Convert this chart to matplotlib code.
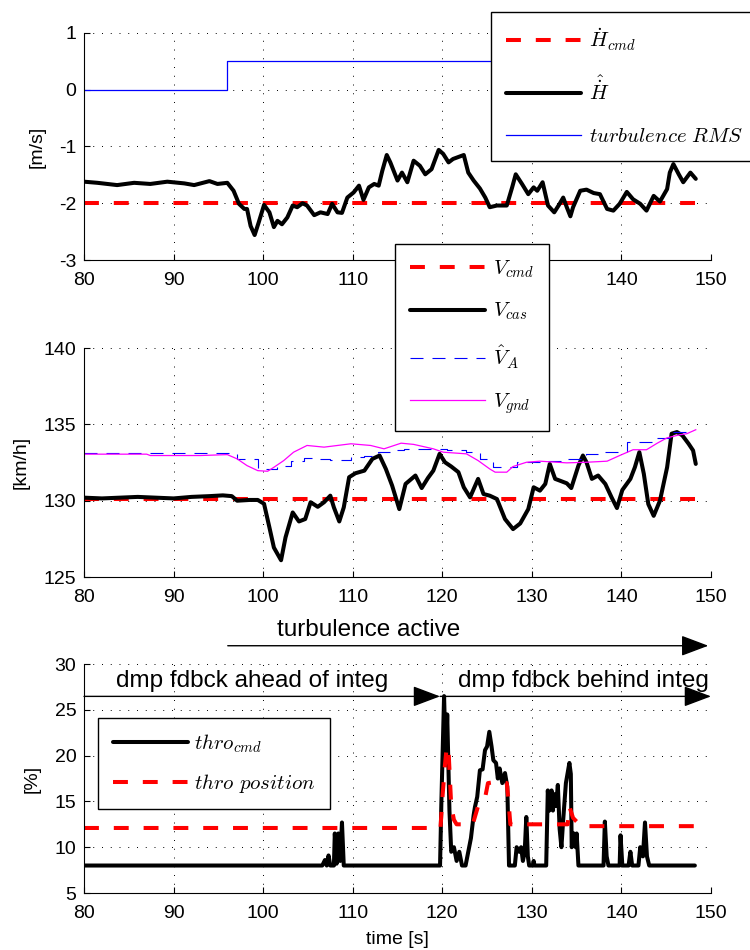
import matplotlib
matplotlib.use('Agg')
import matplotlib.pyplot as plt
import numpy as np

plt.rcParams['font.family'] = ['Liberation Sans', 'DejaVu Sans']
plt.rcParams['mathtext.fontset'] = 'cm'
plt.rcParams['axes.unicode_minus'] = False

# ---------------- data ----------------
x_ticks = [80, 90, 100, 110, 120, 130, 140, 150]

# top panel: vertical speed
t_hdot = [80, 81.5, 83.7, 85.6, 87.4, 89.3, 91.2, 92.3, 94.0, 94.9, 96.0, 96.7, 97.3, 97.9, 98.2,
          98.6, 99.05, 99.5, 100.1, 100.7, 101.2, 101.6, 102.1, 102.7, 103.3, 103.8, 104.4, 104.9,
          105.7, 106.4, 107.2, 107.7, 108.3, 108.8, 109.4, 110.1, 110.7, 111.2, 111.8, 112.4, 112.9,
          113.3, 113.8, 114.2, 115.0, 115.5, 116.1, 116.8, 117.5, 118.1, 118.8, 119.6, 120.1, 120.7,
          121.2, 122.4, 122.9, 123.5, 124.2, 124.8, 125.3, 126.1, 127.2, 127.8, 128.2, 128.9, 129.6,
          130.2, 130.6, 131.2, 131.8, 132.5, 133.1, 133.5, 133.9, 134.3, 134.6, 135.4, 136.1, 136.9,
          137.6, 138.4, 139.1, 139.8, 140.6, 141.3, 142.1, 142.8, 143.6, 144.3, 145.1, 145.4, 145.8,
          146.4, 146.9, 147.7, 148.3]
hdot_est = [-1.62, -1.64, -1.68, -1.64, -1.66, -1.62, -1.65, -1.68, -1.61, -1.66, -1.64, -1.78, -2.01,
            -2.10, -2.10, -2.40, -2.56, -2.34, -2.03, -2.16, -2.42, -2.31, -2.37, -2.25, -2.04, -2.07,
            -2.00, -2.04, -2.21, -2.16, -2.19, -2.01, -2.16, -2.17, -1.90, -1.81, -1.69, -1.94, -1.72,
            -1.66, -1.69, -1.43, -1.15, -1.28, -1.60, -1.46, -1.63, -1.25, -1.34, -1.49, -1.40, -1.06,
            -1.13, -1.28, -1.22, -1.15, -1.46, -1.60, -1.74, -1.90, -2.07, -2.04, -2.04, -1.72, -1.49,
            -1.66, -1.84, -1.72, -1.78, -1.63, -2.04, -2.16, -2.01, -1.90, -2.07, -2.23, -2.07, -1.78,
            -1.76, -1.82, -1.84, -2.10, -2.13, -2.01, -1.80, -1.93, -2.01, -2.13, -1.87, -1.97, -1.75,
            -1.46, -1.31, -1.49, -1.63, -1.46, -1.57]
t_hcmd = [80, 148.3]
hdot_cmd = [-2.0, -2.0]
t_turb = [80, 96, 148.3]
turb_rms = [0.0, 0.5, 0.5]

# middle panel: speeds
t_vcas = [80, 82, 84, 86, 88, 90, 92, 94, 95.5, 96.5, 97.1, 98.5, 99.4, 100.1, 100.7, 101.2, 102.0,
          102.5, 103.3, 104.0, 104.7, 105.3, 106.1, 106.8, 107.5, 107.9, 108.5, 109.0, 109.6, 110.3,
          111.3, 112.2, 113.0, 113.7, 114.4, 115.2, 115.9, 117.0, 117.7, 118.4, 119.0, 119.7, 120.3,
          121.0, 121.8, 122.4, 123.1, 124.0, 124.6, 125.3, 126.1, 127.0, 127.9, 128.7, 129.6, 130.2,
          130.9, 131.5, 132.0, 132.6, 133.1, 133.9, 134.4, 135.2, 135.7, 136.1, 136.7, 137.4, 138.2,
          138.9, 139.5, 140.1, 141.0, 141.5, 142.0, 142.5, 143.0, 143.6, 144.3, 145.1, 145.6, 146.2,
          146.8, 147.5, 148.0, 148.3]
v_cas = [130.2, 130.15, 130.2, 130.25, 130.2, 130.15, 130.25, 130.3, 130.35, 130.3, 130.0, 130.05,
         130.05, 129.8, 128.25, 126.93, 126.1, 127.6, 129.23, 128.64, 128.8, 129.9, 129.6, 129.9,
         130.33, 129.56, 128.64, 129.56, 131.54, 131.8, 131.97, 132.74, 132.96, 132.08, 130.99, 129.45,
         131.1, 131.65, 130.83, 131.49, 131.97, 133.07, 132.52, 132.24, 131.87, 130.88, 130.22, 131.43,
         130.44, 130.33, 130.11, 128.8, 128.14, 128.51, 129.45, 130.88, 130.66, 131.1, 132.41, 131.43,
         131.32, 131.14, 130.83, 132.3, 132.96, 132.52, 131.43, 131.65, 131.1, 130.22, 129.52, 130.7,
         131.43, 132.19, 133.18, 131.76, 129.78, 129.01, 130.0, 132.19, 134.39, 134.5, 134.28, 133.73,
         133.29, 132.41]
t_vcmd = [80, 148.3]
v_cmd = [130.1, 130.1]
t_vgnd = [80, 87.0, 87.4, 93.0, 96.0, 97.1, 98.2, 99.4, 100.5, 101.2, 102.3, 103.4, 104.9, 106.8,
          108.3, 109.8, 112.0, 113.5, 115.4, 116.8, 119.0, 120.1, 122.7, 124.0, 125.3, 125.9, 127.2,
          127.9, 129.4, 130.9, 133.9, 136.1, 138.4, 139.8, 141.3, 142.8, 144.0, 145.1, 146.5, 147.3,
          148.3]
v_gnd = [133.05, 133.05, 132.96, 132.96, 133.02, 132.74, 132.3, 131.97, 131.93, 132.19, 132.63,
         133.18, 133.62, 133.51, 133.62, 133.73, 133.62, 133.4, 133.77, 133.69, 133.4, 133.18, 133.07,
         132.63, 132.08, 131.87, 131.87, 132.24, 132.52, 132.59, 132.48, 132.52, 132.59, 132.96,
         133.34, 133.34, 133.77, 134.12, 134.32, 134.39, 134.65]
t_va = [80, 96.0, 97.1, 99.4, 100.5, 101.6, 103.1, 104.6, 106.1, 107.5, 109.8, 111.3, 112.8, 114.2,
        115.7, 117.1, 120.5, 122.7, 124.2, 125.7, 127.2, 128.3, 130.9, 133.9, 136.1, 137.6, 140.6,
        143.6, 145.8, 147.3]
v_a_est = [133.15, 133.1, 132.74, 132.08, 132.08, 132.3, 132.63, 132.81, 132.74, 132.68, 132.85,
           132.96, 133.18, 133.34, 133.4, 133.4, 133.34, 133.18, 132.74, 132.19, 132.19, 132.52,
           132.63, 132.74, 133.03, 133.18, 133.84, 134.12, 134.5, 134.87]

# bottom panel: throttle
t_thr = [80, 106.6, 106.9, 107.1, 107.3, 107.5, 107.9, 108.0, 108.2, 108.4, 108.6, 108.8, 109.0,
         119.75, 119.9, 120.2, 120.4, 120.55, 120.8, 121.0, 121.3, 121.6, 121.9, 122.2, 122.6, 122.9,
         123.2, 123.5, 123.65, 123.9, 124.2, 124.5, 124.77, 125.0, 125.25, 125.5, 125.7, 126.0, 126.2,
         126.4, 126.7, 127.0, 127.26, 127.45, 128.1, 128.3, 128.6, 128.8, 129.0, 129.2, 129.38,
         129.55, 129.7, 130.1, 130.2, 130.3, 131.6, 131.78, 131.95, 132.2, 132.35, 132.48, 132.7,
         132.9, 133.1, 133.3, 133.5, 133.8, 134.19, 134.35, 134.45, 134.7, 134.9, 135.0, 135.2,
         138.0, 138.15, 138.35, 138.55, 139.8, 139.9, 140.1, 140.8, 141.0, 141.2, 141.9, 142.1,
         142.4, 142.63, 142.85, 143.1, 148.2]
thro_cmd = [8, 8, 8.6, 8, 9.1, 8, 8, 11.5, 8.2, 11.5, 8.5, 12.7, 8,
            8, 15, 26.5, 19, 24.5, 14, 9.5, 10, 8.5, 9.5, 8, 8, 9.5,
            11, 13.5, 14.4, 15.5, 18.4, 18.5, 20.6, 21, 22.6, 21, 19.5, 19.2, 17.5,
            18.6, 17, 18.1, 16.6, 8, 8, 10, 9.5, 10, 8.5, 9.5, 13.3,
            9, 8, 8, 8.5, 8, 8, 16.2, 14, 16.2, 14, 15.8, 14.5,
            16.8, 12, 10, 13, 17, 19.2, 18, 10, 11.5, 10, 11.5, 8,
            8, 12.8, 9, 8, 8, 11.3, 8, 8, 9.5, 8, 8, 10,
            9, 12.7, 9, 8, 8]
t_pos = [80, 119.8, 120.0, 120.3, 120.5, 120.7, 120.85, 121.0, 121.3, 121.6, 123.4, 123.7, 124.0,
         124.4, 124.8, 125.1, 126.5, 127.2, 127.35, 127.6, 134.0, 134.2, 134.6, 135.0, 135.5, 148.2]
thro_pos = [12.1, 12.1, 15.2, 19, 21, 20.5, 17.5, 14.5, 13, 12.5, 12.5, 13.5, 14.5,
            15, 15.5, 17, 17.2, 17, 15.5, 12.5, 12.5, 14.4, 13.2, 12.8, 12.3, 12.3]

# ---------------- figure ----------------
fig = plt.figure(figsize=(7.5, 9.5), dpi=100)
ax1 = fig.add_axes([0.112, 0.7263, 0.836, 0.239])
ax2 = fig.add_axes([0.112, 0.3926, 0.836, 0.241])
ax3 = fig.add_axes([0.112, 0.060, 0.836, 0.241])

RED_DASH = dict(color='#ff0000', lw=2.9, linestyle=(0, (3.7, 3.7)), dash_capstyle='butt')
BLACK = dict(color='k', lw=2.9, solid_joinstyle='round', solid_capstyle='round')


def style(ax, ylim, yticks, ylabel, ylab_x):
    ax.set_xlim(80, 150)
    ax.set_ylim(*ylim)
    ax.set_xticks(x_ticks)
    ax.set_yticks(yticks)
    for s in ('top', 'right'):
        ax.spines[s].set_visible(False)
    for s in ('left', 'bottom'):
        ax.spines[s].set_linewidth(0.8)
    ax.tick_params(direction='in', length=4.5, width=0.8, labelsize=14)
    ax.tick_params(axis='x', pad=8.5)
    ax.tick_params(axis='y', pad=5.5)
    ax.grid(True, color='k', linestyle=(0, (1, 8)), linewidth=0.7)
    ax.set_ylabel(ylabel, fontsize=14)
    ax.yaxis.set_label_coords(ylab_x, 0.5)


def legend(ax, anchor, spacing, pad=0.7, tpad=0.4, hl=3.6):
    lg = ax.legend(loc='upper left', bbox_to_anchor=anchor, bbox_transform=fig.transFigure,
                   fontsize=15, handlelength=hl, handletextpad=tpad, labelspacing=spacing,
                   borderpad=pad, borderaxespad=0, fancybox=False, framealpha=1,
                   edgecolor='k')
    lg.get_frame().set_linewidth(1.0)
    return lg


# top
ax1.plot(t_hcmd, hdot_cmd, label=r'$\dot{H}_{cmd}$', **RED_DASH)
ax1.plot(t_hdot, hdot_est, label=r'$\hat{\dot{H}}$', **BLACK)
ax1.plot(t_turb, turb_rms, drawstyle='steps-post', color='#0000ff', lw=0.9,
         label=r'$turbulence\ RMS$')
style(ax1, (-3, 1), [-3, -2, -1, 0, 1], '[m/s]', -0.061)
legend(ax1, (0.6547, 0.9874), 1.1)

# middle
ax2.plot(t_vcmd, v_cmd, label=r'$V_{cmd}$', **RED_DASH)
ax2.plot(t_vcas, v_cas, label=r'$V_{cas}$', **BLACK)
ax2.plot(t_va, v_a_est, drawstyle='steps-post', color='#0000ff', lw=0.8,
         linestyle=(0, (11.7, 8.1)), label=r'$\hat{V}_A$')
ax2.plot(t_vgnd, v_gnd, color='#ff00ff', lw=0.9, label=r'$V_{gnd}$')
style(ax2, (125, 140), [125, 130, 135, 140], '[km/h]', -0.087)
legend(ax2, (0.5267, 0.7432), 1.0, tpad=0.42)

# bottom
ax3.plot(t_thr, thro_cmd, label=r'$thro_{cmd}$', **BLACK)
ax3.plot(t_pos, thro_pos, label=r'$thro\ position$', **RED_DASH)
style(ax3, (5, 30), [5, 10, 15, 20, 25, 30], '[%]', -0.069)
ax3.set_xlabel('time [s]', fontsize=14)
ax3.xaxis.set_label_coords(0.5, -0.166)
legend(ax3, (0.1307, 0.2442), 0.8, tpad=0.33)

arrow = dict(arrowstyle='-|>,head_length=0.85,head_width=0.32', color='k', lw=1.0,
             shrinkA=0, shrinkB=0, mutation_scale=20)
ax3.annotate('', xy=(149.7, 32.0), xytext=(96.05, 32.0), arrowprops=arrow,
             annotation_clip=False)
ax3.annotate('', xy=(119.75, 26.47), xytext=(80, 26.47), arrowprops=arrow,
             annotation_clip=False)
ax3.annotate('', xy=(150, 26.47), xytext=(119.75, 26.47), arrowprops=arrow,
             annotation_clip=False)
ax3.text(111.8, 33.7, 'turbulence active', ha='center', va='center', fontsize=17.5,
         clip_on=False)
ax3.text(98.8, 28.18, 'dmp fdbck ahead of integ', ha='center', va='center', fontsize=17.5)
ax3.text(135.8, 28.18, 'dmp fdbck behind integ', ha='center', va='center', fontsize=17.5)

fig.savefig('out.png', dpi=100)
